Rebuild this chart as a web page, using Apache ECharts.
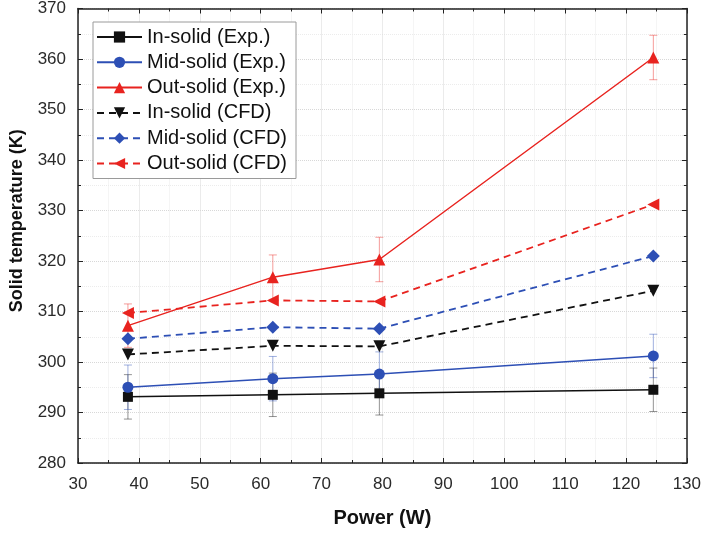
<!DOCTYPE html>
<html>
<head>
<meta charset="utf-8">
<script src="https://cdn.jsdelivr.net/npm/echarts@6/dist/echarts.min.js"></script>
<style>
  html, body { margin: 0; padding: 0; background: #fff; }
  #chart { width: 704px; height: 533px; }
</style>
</head>
<body>
<div id="chart"></div>
<script>
// Heater power (W)
const power = [38.2, 62, 79.5, 124.5];

// Measured solid temperatures (K)
const inSolidExp  = [293.1, 293.5, 293.8, 294.5];
const midSolidExp = [295.0, 296.7, 297.6, 301.2];
const outSolidExp = [307.2, 316.8, 320.3, 360.3];

// Measurement uncertainty (± K)
const inSolidErr  = [4.4, 4.3, 4.3, 4.3];
const midSolidErr = [4.4, 4.4, 4.4, 4.3];
const outSolidErr = [4.3, 4.4, 4.4, 4.4];

// CFD predictions (K)
const inSolidCfd  = [301.5, 303.2, 303.1, 314.1];
const midSolidCfd = [304.6, 306.9, 306.6, 321.0];
const outSolidCfd = [309.7, 312.2, 312.0, 331.2];

const BLACK = '#111111';
const BLUE = '#2d4fb5';
const RED = '#e8231f';
const FONT = 'Liberation Sans, Arial, sans-serif';

const pairs = (ys) => power.map((x, i) => [x, ys[i]]);
const bars = (ys, es) => power.map((x, i) => [x, ys[i] - es[i], ys[i] + es[i]]);

function errorSeries(ys, es, color) {
  return {
    type: 'custom',
    xAxisIndex: 0, yAxisIndex: 0,
    z: 1,
    silent: true,
    data: bars(ys, es),
    renderItem: function (params, api) {
      const lo = api.coord([api.value(0), api.value(1)]);
      const hi = api.coord([api.value(0), api.value(2)]);
      const w = 4;
      const style = { stroke: color, lineWidth: 1, opacity: 0.45 };
      return {
        type: 'group',
        children: [
          { type: 'line', shape: { x1: lo[0], y1: lo[1], x2: hi[0], y2: hi[1] }, style },
          { type: 'line', shape: { x1: lo[0] - w, y1: lo[1], x2: lo[0] + w, y2: lo[1] }, style },
          { type: 'line', shape: { x1: hi[0] - w, y1: hi[1], x2: hi[0] + w, y2: hi[1] }, style }
        ]
      };
    }
  };
}

function lineSeries(name, ys, color, symbol, rotate, dashed, size) {
  return {
    name: name,
    type: 'line',
    xAxisIndex: 0, yAxisIndex: 0,
    z: 3,
    data: pairs(ys),
    symbol: symbol,
    symbolRotate: rotate,
    symbolSize: size,
    showAllSymbol: true,
    itemStyle: { color: color },
    lineStyle: { color: color, width: dashed ? 1.8 : 1.5, type: dashed ? [7, 5] : 'solid' }
  };
}

const tickFont = { fontFamily: FONT, fontSize: 17, color: '#2a2a2a' };
const axisLineStyle = { color: '#222', width: 1.5 };

function mirrorAxis(extra) {
  return Object.assign({
    type: 'value',
    axisLine: { show: true, lineStyle: axisLineStyle },
    axisTick: { inside: true, length: 5, lineStyle: { color: '#222' } },
    minorTick: { show: true, splitNumber: 2, length: 3, lineStyle: { color: '#222' } },
    axisLabel: { show: false },
    splitLine: { show: false }
  }, extra);
}

const chart = echarts.init(document.getElementById('chart'), null, { renderer: 'canvas' });
chart.setOption({
  animation: false,
  backgroundColor: '#fff',
  grid: { left: 77, right: 17, top: 7, bottom: 69, containLabel: false },
  legend: {
    orient: 'vertical',
    left: 93, top: 22,
    padding: [5, 9, 5, 3],
    backgroundColor: '#fff',
    borderColor: '#9a9a9a',
    borderWidth: 1,
    borderRadius: 0,
    itemWidth: 45,
    itemHeight: 14,
    itemGap: 5.3,
    textStyle: { fontFamily: FONT, fontSize: 20, lineHeight: 20, color: '#111' },
    data: ['In-solid (Exp.)', 'Mid-solid (Exp.)', 'Out-solid (Exp.)', 'In-solid (CFD)', 'Mid-solid (CFD)', 'Out-solid (CFD)']
  },
  xAxis: [
    {
      type: 'value', min: 30, max: 130, interval: 10,
      name: 'Power (W)', nameLocation: 'middle', nameGap: 45,
      nameTextStyle: { fontFamily: FONT, fontSize: 20, fontWeight: 'bold', color: '#111' },
      axisLine: { lineStyle: axisLineStyle },
      axisTick: { inside: true, length: 5, lineStyle: { color: '#222' } },
      minorTick: { show: true, splitNumber: 2, length: 3, lineStyle: { color: '#222' } },
      axisLabel: Object.assign({ margin: 13 }, tickFont),
      splitLine: { show: true, lineStyle: { color: '#d8d8d8', type: 'dotted', width: 1 } },
      minorSplitLine: { show: true, lineStyle: { color: '#ececec', type: 'dotted', width: 1 } }
    },
    mirrorAxis({ position: 'top', min: 30, max: 130, interval: 10 })
  ],
  yAxis: [
    {
      type: 'value', min: 280, max: 370, interval: 10,
      name: 'Solid temperature (K)', nameLocation: 'middle', nameGap: 52,
      nameTextStyle: { fontFamily: FONT, fontSize: 18, fontWeight: 'bold', color: '#111', padding: [0, 0, 0, 30] },
      axisLine: { show: true, lineStyle: axisLineStyle },
      axisTick: { inside: true, length: 5, lineStyle: { color: '#222' } },
      minorTick: { show: true, splitNumber: 2, length: 3, lineStyle: { color: '#222' } },
      axisLabel: Object.assign({ margin: 12 }, tickFont),
      splitLine: { show: true, lineStyle: { color: '#d8d8d8', type: 'dotted', width: 1 } },
      minorSplitLine: { show: true, lineStyle: { color: '#ececec', type: 'dotted', width: 1 } }
    },
    mirrorAxis({ position: 'right', min: 280, max: 370, interval: 10 })
  ],
  series: [
    errorSeries(inSolidExp, inSolidErr, BLACK),
    errorSeries(midSolidExp, midSolidErr, BLUE),
    errorSeries(outSolidExp, outSolidErr, RED),
    lineSeries('In-solid (Exp.)', inSolidExp, BLACK, 'rect', 0, false, 10),
    lineSeries('Mid-solid (Exp.)', midSolidExp, BLUE, 'circle', 0, false, 11),
    lineSeries('Out-solid (Exp.)', outSolidExp, RED, 'triangle', 0, false, 12),
    lineSeries('In-solid (CFD)', inSolidCfd, BLACK, 'triangle', 180, true, 12),
    lineSeries('Mid-solid (CFD)', midSolidCfd, BLUE, 'diamond', 0, true, 13),
    lineSeries('Out-solid (CFD)', outSolidCfd, RED, 'triangle', 90, true, 12)
  ]
});
</script>
</body>
</html>
